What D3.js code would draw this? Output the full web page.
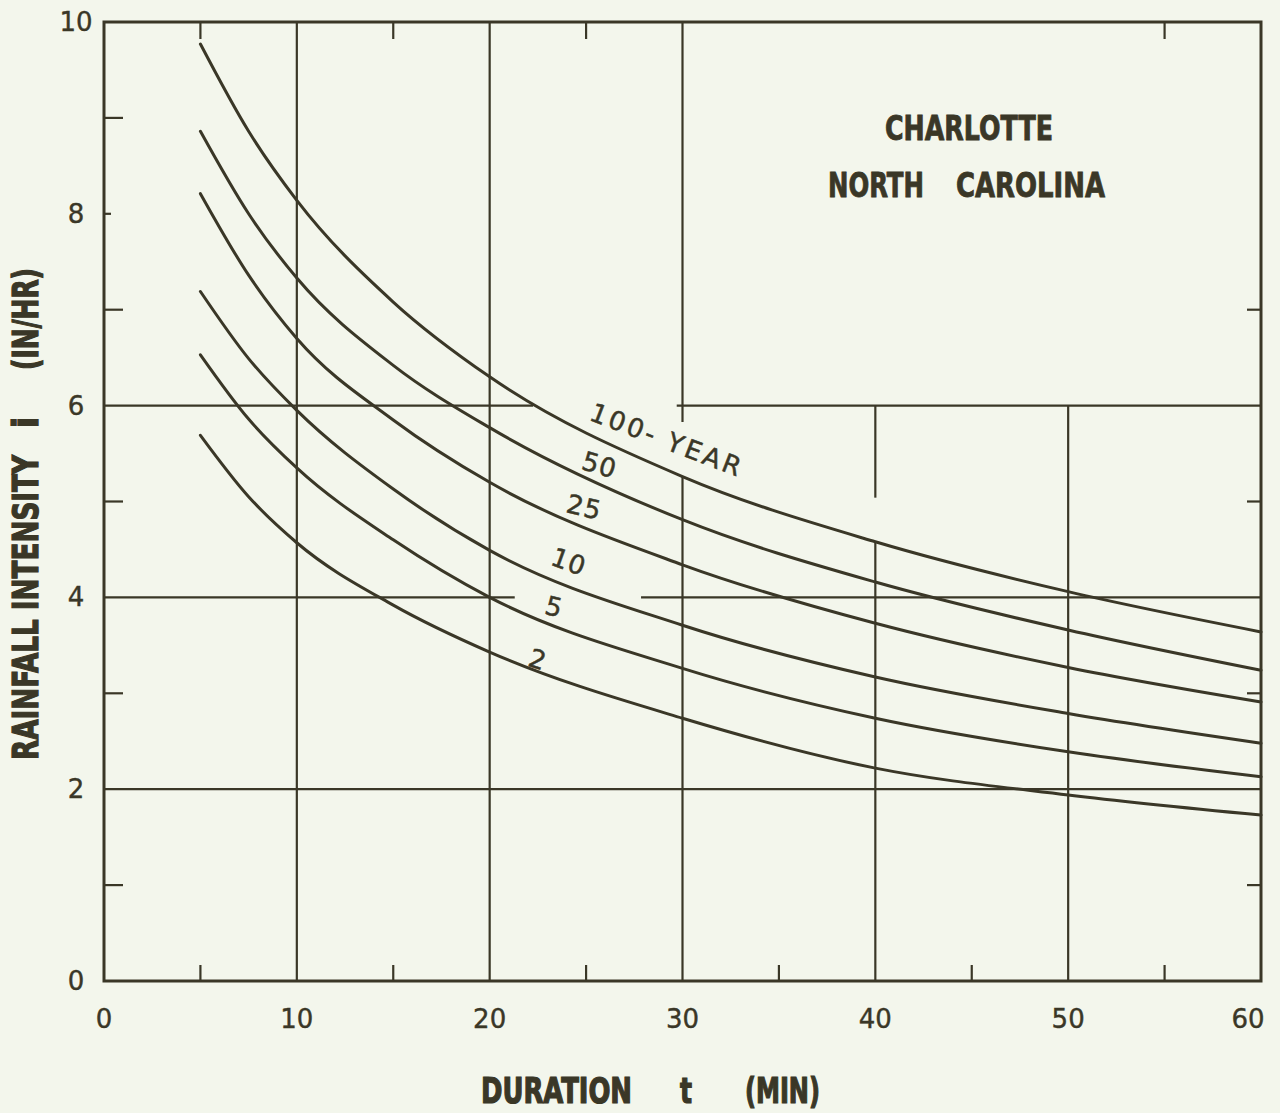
<!DOCTYPE html>
<html>
<head>
<meta charset="utf-8">
<script src="https://cdn.jsdelivr.net/npm/d3@7"></script>
<style>
  body { margin: 0; background: #f3f6ec; }
  .bold { font-family: "Liberation Sans Narrow", "DejaVu Sans Condensed", sans-serif; font-weight: bold; }
  .lettering { font-family: "DejaVu Sans", sans-serif; }
</style>
</head>
<body>
<div id="app"></div>
<script>
const OUTER = { width: 1280, height: 1113 };
const INK = "#3a3727";

// duration t (min) and rainfall intensity i (in/hr)
const durations = [5, 7.5, 10, 15, 20, 30, 40, 50, 60];
const year100 = [9.77, 8.86, 8.14, 7.08, 6.30, 5.26, 4.58, 4.06, 3.64];
const year50  = [8.86, 8.00, 7.33, 6.42, 5.77, 4.81, 4.16, 3.66, 3.24];
const year25  = [8.21, 7.36, 6.70, 5.85, 5.20, 4.34, 3.73, 3.27, 2.91];
const year10  = [7.19, 6.49, 5.95, 5.13, 4.49, 3.71, 3.17, 2.79, 2.48];
const year5   = [6.53, 5.86, 5.35, 4.60, 4.00, 3.26, 2.74, 2.39, 2.13];
const year2   = [5.69, 5.05, 4.57, 3.92, 3.43, 2.74, 2.22, 1.94, 1.73];

const xTicks = [0, 10, 20, 30, 40, 50, 60];
const yTicks = [0, 2, 4, 6, 8, 10];

// curve labels: text, t, i, angle
const curveLabels = [
  ["100- YEAR", 29.2, 5.64, 21],
  ["50", 25.7, 5.38, 16],
  ["25", 24.9, 4.94, 13],
  ["10", 24.1, 4.37, 20],
  ["5", 23.35, 3.90, 14],
  ["2", 22.5, 3.35, 18],
];

const series = [
  { name: "100", values: year100 },
  { name: "50", values: year50 },
  { name: "25", values: year25 },
  { name: "10", values: year10 },
  { name: "5", values: year5 },
  { name: "2", values: year2 },
];

// grid segments with the drafting gaps of the original
const vGrid = [[10, 0, 10], [20, 0, 10], [30, 0, 5.26], [30, 5.83, 10], [40, 0, 4.57], [40, 5.04, 6], [50, 0, 6]];
const hGrid = [[6, 0, 22.25], [6, 29.7, 60], [4, 0, 21.3], [4, 27.85, 60], [2, 0, 60]];

const xScale = d3.scaleLinear().domain([0, 60]).range([104, 1261]);
const yScale = d3.scaleLinear().domain([0, 10]).range([981, 22]);

const line = d3.line()
  .x(d => xScale(d[0]))
  .y(d => yScale(d[1]))
  .curve(d3.curveMonotoneX);

const svg = d3.select('#app')
  .append('svg')
  .attr('width', OUTER.width)
  .attr('height', OUTER.height);

svg.append('rect')
  .attr('width', OUTER.width)
  .attr('height', OUTER.height)
  .attr('fill', '#f3f6ec');

// grid
svg.append('g').selectAll('line')
  .data(vGrid)
  .join('line')
  .attr('x1', d => xScale(d[0])).attr('x2', d => xScale(d[0]))
  .attr('y1', d => yScale(d[1])).attr('y2', d => yScale(d[2]))
  .attr('stroke', INK).attr('stroke-width', 2.2);

svg.append('g').selectAll('line')
  .data(hGrid)
  .join('line')
  .attr('y1', d => yScale(d[0])).attr('y2', d => yScale(d[0]))
  .attr('x1', d => xScale(d[1])).attr('x2', d => xScale(d[2]))
  .attr('stroke', INK).attr('stroke-width', 2.2);

// frame
svg.append('rect')
  .attr('x', xScale(0)).attr('y', yScale(10))
  .attr('width', xScale(60) - xScale(0))
  .attr('height', yScale(0) - yScale(10))
  .attr('fill', 'none').attr('stroke', INK).attr('stroke-width', 3);

// inward ticks
const ticks = svg.append('g').attr('stroke', INK).attr('stroke-width', 2.2);
[1, 3, 5, 7, 9].forEach(v => ticks.append('line')
  .attr('x1', xScale(0)).attr('x2', xScale(0) + 19)
  .attr('y1', yScale(v)).attr('y2', yScale(v)));
ticks.append('line')
  .attr('x1', xScale(0)).attr('x2', xScale(0) + 7)
  .attr('y1', yScale(8)).attr('y2', yScale(8));
[1, 3, 5, 7].forEach(v => ticks.append('line')
  .attr('x1', xScale(60)).attr('x2', xScale(60) - 14)
  .attr('y1', yScale(v)).attr('y2', yScale(v)));
[5, 15, 25, 55].forEach(v => ticks.append('line')
  .attr('x1', xScale(v)).attr('x2', xScale(v))
  .attr('y1', yScale(10)).attr('y2', yScale(10) + 17));
[5, 15, 25, 35, 45, 55].forEach(v => ticks.append('line')
  .attr('x1', xScale(v)).attr('x2', xScale(v))
  .attr('y1', yScale(0)).attr('y2', yScale(0) - 16));

// curves
svg.append('g').selectAll('path')
  .data(series)
  .join('path')
  .attr('d', s => line(durations.map((t, i) => [t, s.values[i]])))
  .attr('fill', 'none')
  .attr('stroke', INK)
  .attr('stroke-width', 3)
  .attr('stroke-linecap', 'round');

// curve labels
svg.append('g').selectAll('text')
  .data(curveLabels)
  .join('text')
  .attr('class', 'lettering')
  .attr('transform', d => `translate(${xScale(d[1])},${yScale(d[2])}) rotate(${d[3]})`)
  .attr('text-anchor', 'middle')
  .attr('dominant-baseline', 'central')
  .attr('font-size', 26)
  .attr('letter-spacing', d => d[0].length > 3 ? 3 : 1)
  .attr('fill', INK)
  .attr('stroke', INK).attr('stroke-width', 0.5)
  .text(d => d[0]);

// tick labels
svg.append('g').selectAll('text')
  .data(yTicks)
  .join('text')
  .attr('class', 'lettering')
  .attr('x', 76).attr('y', d => yScale(d))
  .attr('text-anchor', 'middle')
  .attr('dominant-baseline', 'central')
  .attr('font-size', 26)
  .attr('fill', INK)
  .attr('stroke', INK).attr('stroke-width', 0.4)
  .text(d => d);

svg.append('g').selectAll('text')
  .data(xTicks)
  .join('text')
  .attr('class', 'lettering')
  .attr('x', d => xScale(d) - (d === 60 ? 13 : 0)).attr('y', 1019)
  .attr('text-anchor', 'middle')
  .attr('dominant-baseline', 'central')
  .attr('font-size', 26)
  .attr('fill', INK)
  .attr('stroke', INK).attr('stroke-width', 0.4)
  .text(d => d);

// location title
const title = svg.append('g')
  .attr('class', 'bold')
  .attr('fill', INK).attr('stroke', INK).attr('stroke-width', 0.8)
  .attr('font-size', 33);
title.append('text').attr('x', 885).attr('y', 140)
  .attr('textLength', 168).attr('lengthAdjust', 'spacingAndGlyphs').text('CHARLOTTE');
title.append('text').attr('x', 828).attr('y', 197)
  .attr('textLength', 96).attr('lengthAdjust', 'spacingAndGlyphs').text('NORTH');
title.append('text').attr('x', 956).attr('y', 197)
  .attr('textLength', 149).attr('lengthAdjust', 'spacingAndGlyphs').text('CAROLINA');

// axis titles
const axisTitle = svg.append('g')
  .attr('class', 'bold')
  .attr('fill', INK).attr('stroke', INK).attr('stroke-width', 1.2)
  .attr('font-size', 35);
const titlePart = (g, x, y, len, txt) => g.append('text')
  .attr('x', x).attr('y', y)
  .attr('textLength', len).attr('lengthAdjust', 'spacingAndGlyphs')
  .text(txt);
titlePart(axisTitle, 481, 1103, 151, 'DURATION');
titlePart(axisTitle, 680, 1103, 12, 't');
titlePart(axisTitle, 745, 1103, 75, '(MIN)');

const yTitle = axisTitle.append('g').attr('transform', 'translate(38,0) rotate(-90)');
titlePart(yTitle, -760, 0, 305, 'RAINFALL INTENSITY');
titlePart(yTitle, -428, 0, 11, 'i');
titlePart(yTitle, -370, 0, 102, '(IN/HR)');
</script>
</body>
</html>
